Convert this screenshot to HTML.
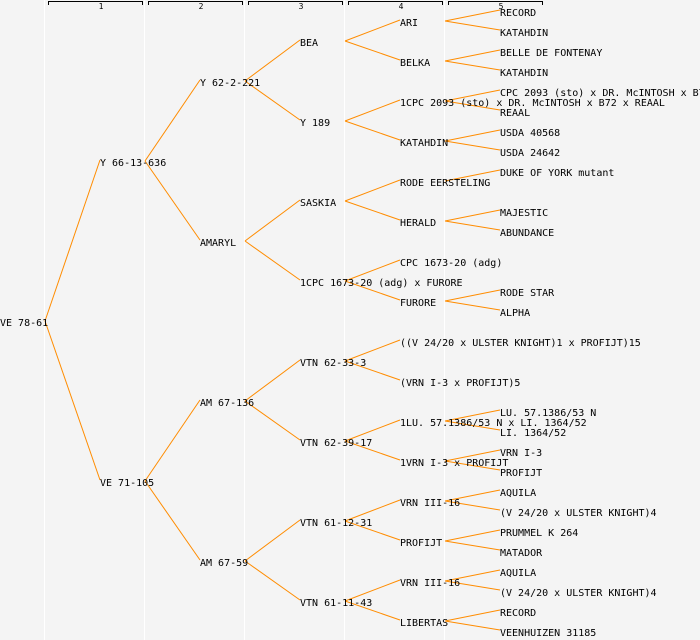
<!DOCTYPE html>
<html><head><meta charset="utf-8"><style>
html,body{margin:0;padding:0;background:#f4f4f4;}
svg{display:block}
text{font-family:"DejaVu Sans Mono","Liberation Mono",monospace;font-size:10px;fill:#000}
.h{font-size:8px}
line.c{stroke:#ff8c00;stroke-width:1}
</style></head><body>
<svg width="700" height="640" xmlns="http://www.w3.org/2000/svg">
<rect width="700" height="640" fill="#f4f4f4"/>
<g stroke="#fff" stroke-width="1">
<line x1="44.5" y1="0" x2="44.5" y2="640"/><line x1="144.5" y1="0" x2="144.5" y2="640"/>
<line x1="244.5" y1="0" x2="244.5" y2="640"/><line x1="344.5" y1="0" x2="344.5" y2="640"/>
<line x1="444.5" y1="0" x2="444.5" y2="640"/>
</g>
<g fill="none" stroke="#000" stroke-width="1">
<path d="M48.5 5V1.5H142.5V5"/><path d="M148.5 5V1.5H242.5V5"/><path d="M248.5 5V1.5H342.5V5"/>
<path d="M348.5 5V1.5H442.5V5"/><path d="M448.5 5V1.5H542.5V5"/>
</g>
<g class="h" text-anchor="middle">
<text class="h" x="101" y="9">1</text><text class="h" x="201" y="9">2</text><text class="h" x="301" y="9">3</text>
<text class="h" x="401" y="9">4</text><text class="h" x="501" y="9">5</text>
</g>
<g class="c" stroke="#ff8c00">
<line class="c" x1="45" y1="321" x2="100" y2="160"/><line class="c" x1="45" y1="321" x2="100" y2="480"/>
<line class="c" x1="145" y1="161" x2="200" y2="80"/><line class="c" x1="145" y1="161" x2="200" y2="240"/>
<line class="c" x1="145" y1="481" x2="200" y2="400"/><line class="c" x1="145" y1="481" x2="200" y2="560"/>
<line class="c" x1="245" y1="81" x2="300" y2="40"/><line class="c" x1="245" y1="81" x2="300" y2="120"/>
<line class="c" x1="245" y1="241" x2="300" y2="200"/><line class="c" x1="245" y1="241" x2="300" y2="280"/>
<line class="c" x1="245" y1="401" x2="300" y2="360"/><line class="c" x1="245" y1="401" x2="300" y2="440"/>
<line class="c" x1="245" y1="561" x2="300" y2="520"/><line class="c" x1="245" y1="561" x2="300" y2="600"/>
<line class="c" x1="345" y1="41" x2="400" y2="20"/><line class="c" x1="345" y1="41" x2="400" y2="60"/>
<line class="c" x1="345" y1="121" x2="400" y2="100"/><line class="c" x1="345" y1="121" x2="400" y2="140"/>
<line class="c" x1="345" y1="201" x2="400" y2="180"/><line class="c" x1="345" y1="201" x2="400" y2="220"/>
<line class="c" x1="345" y1="281" x2="400" y2="260"/><line class="c" x1="345" y1="281" x2="400" y2="300"/>
<line class="c" x1="345" y1="361" x2="400" y2="340"/><line class="c" x1="345" y1="361" x2="400" y2="380"/>
<line class="c" x1="345" y1="441" x2="400" y2="420"/><line class="c" x1="345" y1="441" x2="400" y2="460"/>
<line class="c" x1="345" y1="521" x2="400" y2="500"/><line class="c" x1="345" y1="521" x2="400" y2="540"/>
<line class="c" x1="345" y1="601" x2="400" y2="580"/><line class="c" x1="345" y1="601" x2="400" y2="620"/>
<line class="c" x1="445" y1="21" x2="500" y2="10"/><line class="c" x1="445" y1="21" x2="500" y2="30"/>
<line class="c" x1="445" y1="61" x2="500" y2="50"/><line class="c" x1="445" y1="61" x2="500" y2="70"/>
<line class="c" x1="445" y1="101" x2="500" y2="90"/><line class="c" x1="445" y1="101" x2="500" y2="110"/>
<line class="c" x1="445" y1="141" x2="500" y2="130"/><line class="c" x1="445" y1="141" x2="500" y2="150"/>
<line class="c" x1="445" y1="181" x2="500" y2="170"/>
<line class="c" x1="445" y1="221" x2="500" y2="210"/><line class="c" x1="445" y1="221" x2="500" y2="230"/>
<line class="c" x1="445" y1="301" x2="500" y2="290"/><line class="c" x1="445" y1="301" x2="500" y2="310"/>
<line class="c" x1="445" y1="421" x2="500" y2="410"/><line class="c" x1="445" y1="421" x2="500" y2="430"/>
<line class="c" x1="445" y1="461" x2="500" y2="450"/><line class="c" x1="445" y1="461" x2="500" y2="470"/>
<line class="c" x1="445" y1="501" x2="500" y2="490"/><line class="c" x1="445" y1="501" x2="500" y2="510"/>
<line class="c" x1="445" y1="541" x2="500" y2="530"/><line class="c" x1="445" y1="541" x2="500" y2="550"/>
<line class="c" x1="445" y1="581" x2="500" y2="570"/><line class="c" x1="445" y1="581" x2="500" y2="590"/>
<line class="c" x1="445" y1="621" x2="500" y2="610"/><line class="c" x1="445" y1="621" x2="500" y2="630"/>
</g>
<text x="0" y="326">VE 78-61</text>
<text x="100" y="166">Y 66-13-636</text>
<text x="100" y="486">VE 71-105</text>
<text x="200" y="86">Y 62-2-221</text>
<text x="200" y="246">AMARYL</text>
<text x="200" y="406">AM 67-136</text>
<text x="200" y="566">AM 67-59</text>
<text x="300" y="46">BEA</text>
<text x="300" y="126">Y 189</text>
<text x="300" y="206">SASKIA</text>
<text x="300" y="286">1CPC 1673-20 (adg) x FURORE</text>
<text x="300" y="366">VTN 62-33-3</text>
<text x="300" y="446">VTN 62-39-17</text>
<text x="300" y="526">VTN 61-12-31</text>
<text x="300" y="606">VTN 61-11-43</text>
<text x="400" y="26">ARI</text>
<text x="400" y="66">BELKA</text>
<text x="400" y="106">1CPC 2093 (sto) x DR. McINTOSH x B72 x REAAL</text>
<text x="400" y="146">KATAHDIN</text>
<text x="400" y="186">RODE EERSTELING</text>
<text x="400" y="226">HERALD</text>
<text x="400" y="266">CPC 1673-20 (adg)</text>
<text x="400" y="306">FURORE</text>
<text x="400" y="346">((V 24/20 x ULSTER KNIGHT)1 x PROFIJT)15</text>
<text x="400" y="386">(VRN I-3 x PROFIJT)5</text>
<text x="400" y="426">1LU. 57.1386/53 N x LI. 1364/52</text>
<text x="400" y="466">1VRN I-3 x PROFIJT</text>
<text x="400" y="506">VRN III-16</text>
<text x="400" y="546">PROFIJT</text>
<text x="400" y="586">VRN III-16</text>
<text x="400" y="626">LIBERTAS</text>
<text x="500" y="16">RECORD</text>
<text x="500" y="36">KATAHDIN</text>
<text x="500" y="56">BELLE DE FONTENAY</text>
<text x="500" y="76">KATAHDIN</text>
<text x="500" y="96">CPC 2093 (sto) x DR. McINTOSH x B72</text>
<text x="500" y="116">REAAL</text>
<text x="500" y="136">USDA 40568</text>
<text x="500" y="156">USDA 24642</text>
<text x="500" y="176">DUKE OF YORK mutant</text>
<text x="500" y="216">MAJESTIC</text>
<text x="500" y="236">ABUNDANCE</text>
<text x="500" y="296">RODE STAR</text>
<text x="500" y="316">ALPHA</text>
<text x="500" y="416">LU. 57.1386/53 N</text>
<text x="500" y="436">LI. 1364/52</text>
<text x="500" y="456">VRN I-3</text>
<text x="500" y="476">PROFIJT</text>
<text x="500" y="496">AQUILA</text>
<text x="500" y="516">(V 24/20 x ULSTER KNIGHT)4</text>
<text x="500" y="536">PRUMMEL K 264</text>
<text x="500" y="556">MATADOR</text>
<text x="500" y="576">AQUILA</text>
<text x="500" y="596">(V 24/20 x ULSTER KNIGHT)4</text>
<text x="500" y="616">RECORD</text>
<text x="500" y="636">VEENHUIZEN 31185</text>
</svg>
</body></html>
